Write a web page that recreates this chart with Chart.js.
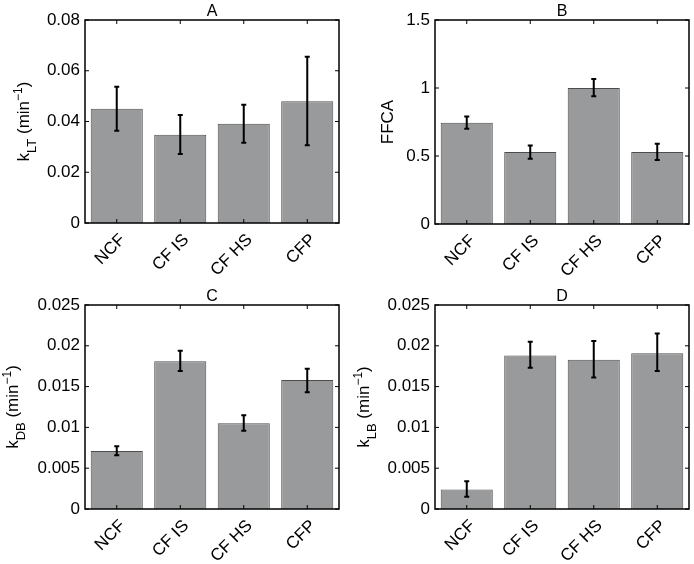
<!DOCTYPE html>
<html>
<head>
<meta charset="utf-8">
<script src="https://cdn.jsdelivr.net/npm/chart.js@4.4.1/dist/chart.umd.min.js"></script>
<style>
  html, body { margin: 0; padding: 0; background: #fff; }
  #wrap { position: relative; width: 694px; height: 564px; }
  .panel { position: absolute; width: 347px; height: 282px; }
</style>
</head>
<body>
<div id="wrap">
  <div class="panel" style="left:0;top:0"><canvas id="chartA" width="347" height="282"></canvas></div>
  <div class="panel" style="left:347px;top:0"><canvas id="chartB" width="347" height="282"></canvas></div>
  <div class="panel" style="left:0;top:282px"><canvas id="chartC" width="347" height="282"></canvas></div>
  <div class="panel" style="left:347px;top:282px"><canvas id="chartD" width="347" height="282"></canvas></div>
</div>
<script>
const categories = ["NCF", "CF IS", "CF HS", "CFP"];

// A: k_LT
const ltValues = [0.045, 0.0348, 0.0391, 0.048];
const ltLow = [0.0364, 0.0272, 0.0316, 0.0306];
const ltHigh = [0.0537, 0.0426, 0.0466, 0.0655];
const ltTicks = [0, 0.02, 0.04, 0.06, 0.08];

// B: FFCA
const ffcaValues = [0.745, 0.53, 1.0, 0.53];
const ffcaLow = [0.70, 0.48, 0.939, 0.47];
const ffcaHigh = [0.79, 0.578, 1.066, 0.59];
const ffcaTicks = [0, 0.5, 1, 1.5];

// C: k_DB
const dbValues = [0.0071, 0.0181, 0.0105, 0.0158];
const dbLow = [0.0066, 0.0169, 0.0096, 0.0143];
const dbHigh = [0.0077, 0.0194, 0.0115, 0.0172];
const dbTicks = [0, 0.005, 0.01, 0.015, 0.02, 0.025];

// D: k_LB
const lbValues = [0.0024, 0.0188, 0.0183, 0.0191];
const lbLow = [0.0015, 0.0173, 0.0161, 0.0169];
const lbHigh = [0.0034, 0.0205, 0.0206, 0.0215];
const lbTicks = [0, 0.005, 0.01, 0.015, 0.02, 0.025];

const FONT = "'Liberation Sans', Arial, Helvetica, sans-serif";

// error bars, frame with inward ticks, title and y label (with sub/superscripts)
const panelPlugin = {
  id: "panelPlugin",
  afterDatasetsDraw(chart) {
    const opts = chart.options.plugins.panelPlugin;
    const ctx = chart.ctx;
    const y = chart.scales.y;
    const meta = chart.getDatasetMeta(0);
    ctx.save();
    ctx.strokeStyle = "#000";
    ctx.lineWidth = 2;
    meta.data.forEach((bar, i) => {
      const yl = y.getPixelForValue(opts.low[i]);
      const yh = y.getPixelForValue(opts.high[i]);
      ctx.beginPath();
      ctx.moveTo(bar.x, yl);
      ctx.lineTo(bar.x, yh);
      ctx.moveTo(bar.x - 2.5, yl);
      ctx.lineTo(bar.x + 2.5, yl);
      ctx.moveTo(bar.x - 2.5, yh);
      ctx.lineTo(bar.x + 2.5, yh);
      ctx.stroke();
    });
    ctx.restore();
  },
  afterDraw(chart) {
    const opts = chart.options.plugins.panelPlugin;
    const ctx = chart.ctx;
    const a = chart.chartArea;
    const x = chart.scales.x;
    const y = chart.scales.y;
    ctx.save();
    ctx.strokeStyle = "#000";
    ctx.lineWidth = 1.5;
    ctx.strokeRect(a.left, a.top, a.right - a.left, a.bottom - a.top);
    ctx.lineWidth = 1;
    ctx.beginPath();
    y.ticks.forEach(t => {
      const py = y.getPixelForValue(t.value);
      ctx.moveTo(a.left, py); ctx.lineTo(a.left + 4, py);
      ctx.moveTo(a.right, py); ctx.lineTo(a.right - 4, py);
    });
    categories.forEach((c, i) => {
      const px = x.getPixelForValue(i);
      ctx.moveTo(px, a.bottom); ctx.lineTo(px, a.bottom - 4);
      ctx.moveTo(px, a.top); ctx.lineTo(px, a.top + 4);
    });
    ctx.stroke();

    // title
    ctx.fillStyle = "#000";
    ctx.font = "16px " + FONT;
    ctx.textAlign = "center";
    ctx.textBaseline = "alphabetic";
    ctx.fillText(opts.title, (a.left + a.right) / 2, a.top - 4);

    // y label, rotated, built from parts
    const parts = opts.ylabel;
    ctx.translate(opts.labelX, (a.top + a.bottom) / 2);
    ctx.rotate(-Math.PI / 2);
    ctx.textAlign = "left";
    let total = 0;
    parts.forEach(p => {
      ctx.font = p.size + "px " + FONT;
      p.w = ctx.measureText(p.text).width;
      total += p.w;
    });
    let cx = -total / 2;
    parts.forEach(p => {
      ctx.font = p.size + "px " + FONT;
      ctx.fillText(p.text, cx, 6 + (p.dy || 0));
      cx += p.w;
    });
    ctx.restore();
  }
};

function kLabel(sub) {
  return [
    { text: "k", size: 17 },
    { text: sub, size: 13, dy: 7 },
    { text: " (min", size: 17 },
    { text: "\u22121", size: 12, dy: -7 },
    { text: ")", size: 17 }
  ];
}

function makePanel(id, cfg) {
  const ctx = document.getElementById(id).getContext("2d");
  return new Chart(ctx, {
    type: "bar",
    data: {
      labels: categories,
      datasets: [{
        data: cfg.values,
        backgroundColor: "#999a9c",
        borderColor: "#4d4d4d",
        borderWidth: 1,
        barPercentage: 0.82,
        categoryPercentage: 1.0
      }]
    },
    options: {
      responsive: false,
      animation: false,
      devicePixelRatio: 1,
      layout: { padding: { top: cfg.area.top, right: 347 - cfg.area.right, left: 0, bottom: 0 } },
      plugins: {
        legend: { display: false },
        tooltip: { enabled: false },
        title: { display: false },
        panelPlugin: {
          low: cfg.low,
          high: cfg.high,
          title: cfg.title,
          ylabel: cfg.ylabel,
          labelX: cfg.labelX
        }
      },
      scales: {
        x: {
          grid: { display: false, drawTicks: false },
          border: { display: false },
          ticks: {
            color: "#000",
            font: { family: FONT, size: 17 },
            minRotation: 45,
            maxRotation: 45,
            padding: 7,
            labelOffset: 6
          },
          afterFit(scale) { scale.height = 282 - cfg.area.bottom; }
        },
        y: {
          min: 0,
          max: cfg.ticks[cfg.ticks.length - 1],
          grid: { display: false, drawTicks: false },
          border: { display: false },
          afterBuildTicks(scale) { scale.ticks = cfg.ticks.map(v => ({ value: v })); },
          ticks: {
            color: "#000",
            font: { family: FONT, size: 17 },
            padding: 5,
            callback: v => String(+Number(v).toFixed(4))
          },
          afterFit(scale) { scale.width = cfg.area.left; }
        }
      }
    },
    plugins: [panelPlugin]
  });
}

makePanel("chartA", {
  values: ltValues, low: ltLow, high: ltHigh, ticks: ltTicks,
  title: "A", ylabel: kLabel("LT"), labelX: 23,
  area: { left: 85, right: 339, top: 20, bottom: 223 }
});
makePanel("chartB", {
  values: ffcaValues, low: ffcaLow, high: ffcaHigh, ticks: ffcaTicks,
  title: "B", ylabel: [{ text: "FFCA", size: 17 }], labelX: 40,
  area: { left: 88, right: 342, top: 20, bottom: 224 }
});
makePanel("chartC", {
  values: dbValues, low: dbLow, high: dbHigh, ticks: dbTicks,
  title: "C", ylabel: kLabel("DB"), labelX: 12,
  area: { left: 85, right: 339, top: 23, bottom: 227 }
});
makePanel("chartD", {
  values: lbValues, low: lbLow, high: lbHigh, ticks: lbTicks,
  title: "D", ylabel: kLabel("LB"), labelX: 16,
  area: { left: 88, right: 342, top: 23, bottom: 227 }
});
</script>
</body>
</html>
